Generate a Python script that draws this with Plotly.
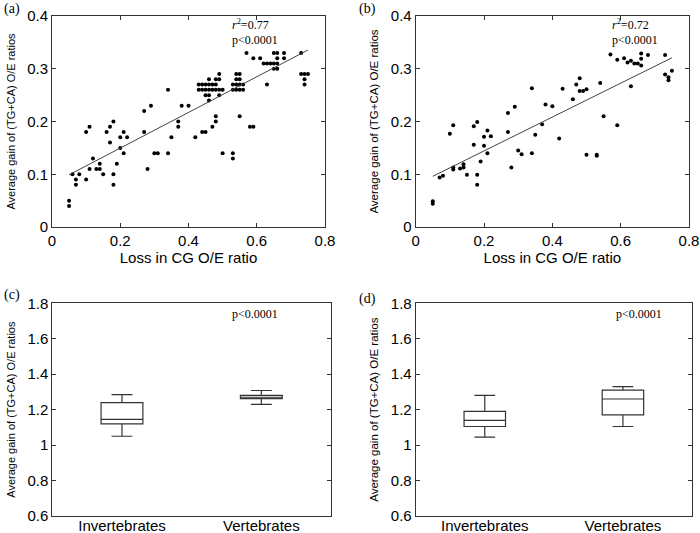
import plotly.graph_objects as go
import numpy as np

# ---------------- Panel (a) data ----------------
a_x = [0.05, 0.05, 0.06, 0.07, 0.07, 0.08, 0.10, 0.10, 0.11, 0.11, 0.12, 0.13, 0.14, 0.14,
       0.15, 0.16, 0.17, 0.17, 0.18, 0.18, 0.18, 0.19, 0.20, 0.20, 0.21, 0.21, 0.22, 0.27,
       0.27, 0.28, 0.29, 0.30, 0.31, 0.34, 0.34, 0.35, 0.37, 0.37, 0.38, 0.40, 0.42,
       0.43, 0.43, 0.44, 0.44, 0.44, 0.45, 0.45, 0.45, 0.45, 0.46, 0.46, 0.46, 0.46, 0.46,
       0.47, 0.47, 0.47, 0.48, 0.48, 0.48, 0.48, 0.48, 0.49, 0.49, 0.49, 0.49, 0.50, 0.50,
       0.53, 0.53, 0.53, 0.53, 0.54, 0.54, 0.54, 0.54, 0.55, 0.55, 0.55, 0.55, 0.55, 0.56,
       0.56, 0.57, 0.58, 0.59, 0.59, 0.61, 0.62, 0.63, 0.63, 0.64, 0.65, 0.65, 0.65, 0.66,
       0.66, 0.66, 0.66, 0.68, 0.68, 0.73, 0.73, 0.74, 0.74, 0.74, 0.75]
a_y = [0.05, 0.04, 0.10, 0.09, 0.08, 0.10, 0.18, 0.09, 0.19, 0.11, 0.13, 0.11, 0.12, 0.11,
       0.10, 0.18, 0.19, 0.16, 0.20, 0.10, 0.08, 0.12, 0.17, 0.15, 0.18, 0.14, 0.17, 0.22,
       0.18, 0.11, 0.23, 0.14, 0.14, 0.26, 0.14, 0.17, 0.20, 0.19, 0.23, 0.23, 0.17,
       0.27, 0.26, 0.27, 0.26, 0.18, 0.27, 0.26, 0.25, 0.18, 0.28, 0.27, 0.26, 0.25, 0.24,
       0.27, 0.26, 0.19, 0.28, 0.27, 0.26, 0.21, 0.20, 0.29, 0.28, 0.26, 0.25, 0.26, 0.14,
       0.27, 0.26, 0.14, 0.13, 0.29, 0.28, 0.27, 0.26, 0.29, 0.28, 0.27, 0.26, 0.21, 0.27,
       0.26, 0.33, 0.19, 0.32, 0.19, 0.32, 0.31, 0.31, 0.27, 0.31, 0.33, 0.31, 0.30, 0.33,
       0.32, 0.31, 0.30, 0.33, 0.32, 0.33, 0.29, 0.29, 0.28, 0.27, 0.29]
a_slope, a_intercept = 0.338, 0.082
a_r2_text = "<i>r</i><sup>2</sup>=0.77"

# ---------------- Panel (b) data ----------------
b_x = [0.05, 0.05, 0.07, 0.08, 0.10, 0.11, 0.11, 0.11, 0.13, 0.14, 0.14, 0.15, 0.17, 0.17,
       0.18, 0.18, 0.18, 0.19, 0.20, 0.20, 0.21, 0.21, 0.22, 0.27, 0.27, 0.28, 0.29, 0.30,
       0.31, 0.34, 0.34, 0.35, 0.37, 0.38, 0.40, 0.42, 0.43, 0.46, 0.47, 0.48, 0.48, 0.49,
       0.50, 0.50, 0.53, 0.53, 0.54, 0.55, 0.57, 0.59, 0.59, 0.61, 0.62, 0.63, 0.63, 0.64,
       0.65, 0.66, 0.66, 0.66, 0.68, 0.73, 0.73, 0.74, 0.74, 0.75]
b_y = [0.049, 0.044, 0.094, 0.097, 0.177, 0.193, 0.113, 0.109, 0.111, 0.113, 0.119, 0.099,
       0.191, 0.156, 0.199, 0.099, 0.080, 0.124, 0.171, 0.154, 0.183, 0.140, 0.172, 0.216,
       0.180, 0.113, 0.228, 0.145, 0.138, 0.263, 0.140, 0.175, 0.195, 0.232, 0.229, 0.168,
       0.262, 0.242, 0.270, 0.282, 0.258, 0.258, 0.261, 0.137, 0.137, 0.135, 0.273, 0.210,
       0.327, 0.317, 0.193, 0.320, 0.312, 0.315, 0.267, 0.310, 0.310, 0.329, 0.319, 0.306,
       0.326, 0.326, 0.289, 0.284, 0.278, 0.296]
b_slope, b_intercept = 0.321, 0.080
b_r2_text = "<i>r</i><sup>2</sup>=0.72"

# ---------------- Panels (c), (d) box statistics ----------------
groups = ["Invertebrates", "Vertebrates"]
c_lower = [1.05, 1.23]
c_q1 = [1.12, 1.262]
c_median = [1.145, 1.27]
c_q3 = [1.24, 1.28]
c_upper = [1.285, 1.308]

d_lower = [1.045, 1.105]
d_q1 = [1.105, 1.17]
d_median = [1.14, 1.26]
d_q3 = [1.19, 1.31]
d_upper = [1.28, 1.33]

p_text = "p<0.0001"
ytitle = "Average gain of (TG+CA) O/E ratios"
xtitle = "Loss in CG O/E ratio"

W, H = 700, 533
SANS = "Arial, Liberation Sans, sans-serif"
SERIF = "Times New Roman, Liberation Serif, serif"


def dx(px):
    return px / W


def dy(px):
    return 1 - px / H


fig = go.Figure()

# scatter panels
for (xs, ys, slope, icpt, xa, ya) in [
    (a_x, a_y, a_slope, a_intercept, "x", "y"),
    (b_x, b_y, b_slope, b_intercept, "x2", "y2"),
]:
    fig.add_trace(go.Scatter(x=xs, y=ys, mode="markers", xaxis=xa, yaxis=ya,
                             marker=dict(color="black", size=4), showlegend=False))
    lx = np.array([min(xs), max(xs)])
    fig.add_trace(go.Scatter(x=lx, y=slope * lx + icpt, mode="lines", xaxis=xa, yaxis=ya,
                             line=dict(color="#444444", width=1), showlegend=False))

# box panels
for (lo, q1, med, q3, up, xa, ya) in [
    (c_lower, c_q1, c_median, c_q3, c_upper, "x3", "y3"),
    (d_lower, d_q1, d_median, d_q3, d_upper, "x4", "y4"),
]:
    fig.add_trace(go.Box(x=groups, q1=q1, median=med, q3=q3, lowerfence=lo, upperfence=up,
                         xaxis=xa, yaxis=ya, width=0.3, whiskerwidth=0.5,
                         fillcolor="white", line=dict(color="#333333", width=1.2),
                         boxpoints=False, showlegend=False))

axis_common = dict(showline=True, linecolor="#333333", linewidth=1, mirror="ticks",
                   ticks="inside", ticklen=4, tickcolor="#333333", showgrid=False,
                   zeroline=False, automargin=False,
                   tickfont=dict(family=SANS, size=15, color="black"))
box_x_axis = {**axis_common, "ticks": "", "ticklabelstandoff": -4}

sc_y = [dy(227), dy(16)]
bx_y = [dy(516), dy(303.3)]

xt_font = dict(family=SANS, size=15, color="black")
fig.update_layout(
    width=W, height=H, margin=dict(l=0, r=0, t=0, b=0),
    paper_bgcolor="white", plot_bgcolor="white",
    xaxis=dict(domain=[dx(52), dx(325)], range=[0, 0.8], dtick=0.2, anchor="y",
               title=dict(text=xtitle, font=xt_font, standoff=2),
               **axis_common),
    yaxis=dict(domain=sc_y, range=[0, 0.4], dtick=0.1, anchor="x",
               title=dict(text=ytitle, font=dict(family=SANS, size=11, color="black"), standoff=9),
               **axis_common),
    xaxis2=dict(domain=[dx(415.7), dx(689)], range=[0, 0.8], dtick=0.2, anchor="y2",
                title=dict(text=xtitle, font=xt_font, standoff=2),
                **axis_common),
    yaxis2=dict(domain=sc_y, range=[0, 0.4], dtick=0.1, anchor="x2",
                title=dict(text=ytitle, font=dict(family=SANS, size=11.5, color="black"), standoff=9),
                **axis_common),
    xaxis3=dict(domain=[dx(52.3), dx(331)], range=[-0.5, 1.5], anchor="y3", **box_x_axis),
    yaxis3=dict(domain=bx_y, range=[0.6, 1.8], dtick=0.2, anchor="x3",
                title=dict(text=ytitle, font=dict(family=SANS, size=11, color="black"), standoff=9),
                **axis_common),
    xaxis4=dict(domain=[dx(415.7), dx(692)], range=[-0.5, 1.5], anchor="y4", **box_x_axis),
    yaxis4=dict(domain=bx_y, range=[0.6, 1.8], dtick=0.2, anchor="x4",
                title=dict(text=ytitle, font=dict(family=SANS, size=11.5, color="black"), standoff=9),
                **axis_common),
)

ann_font = dict(family=SERIF, size=12, color="black")
anns = [
    dict(text=a_r2_text, x=dx(230), y=dy(25), xref="paper", yref="paper", xanchor="left", yanchor="middle", showarrow=False, font=ann_font),
    dict(text=p_text, x=dx(230), y=dy(40), xref="paper", yref="paper", xanchor="left", yanchor="middle", showarrow=False, font=ann_font),
    dict(text=b_r2_text, x=dx(610), y=dy(25), xref="paper", yref="paper", xanchor="left", yanchor="middle", showarrow=False, font=ann_font),
    dict(text=p_text, x=dx(610), y=dy(40), xref="paper", yref="paper", xanchor="left", yanchor="middle", showarrow=False, font=ann_font),
    dict(text=p_text, x=dx(230), y=dy(314), xref="paper", yref="paper", xanchor="left", yanchor="middle", showarrow=False, font=ann_font),
    dict(text=p_text, x=dx(614), y=dy(314), xref="paper", yref="paper", xanchor="left", yanchor="middle", showarrow=False, font=ann_font),
]
lab_font = dict(family=SERIF, size=14, color="black")
for lab, px, py in [("(a)", 2, 9), ("(b)", 357, 9), ("(c)", 2, 295), ("(d)", 357, 299)]:
    anns.append(dict(text=lab, x=dx(px), y=dy(py), xref="paper", yref="paper", xanchor="left",
                     yanchor="middle", showarrow=False, font=lab_font))
fig.update_layout(annotations=anns)

# remove the browser's default 8px body margin so the figure sits at the window's corner
fig.write_html("out.html", config={"displayModeBar": False},
               post_script="document.body.style.margin='0';document.body.style.overflow='hidden';")
